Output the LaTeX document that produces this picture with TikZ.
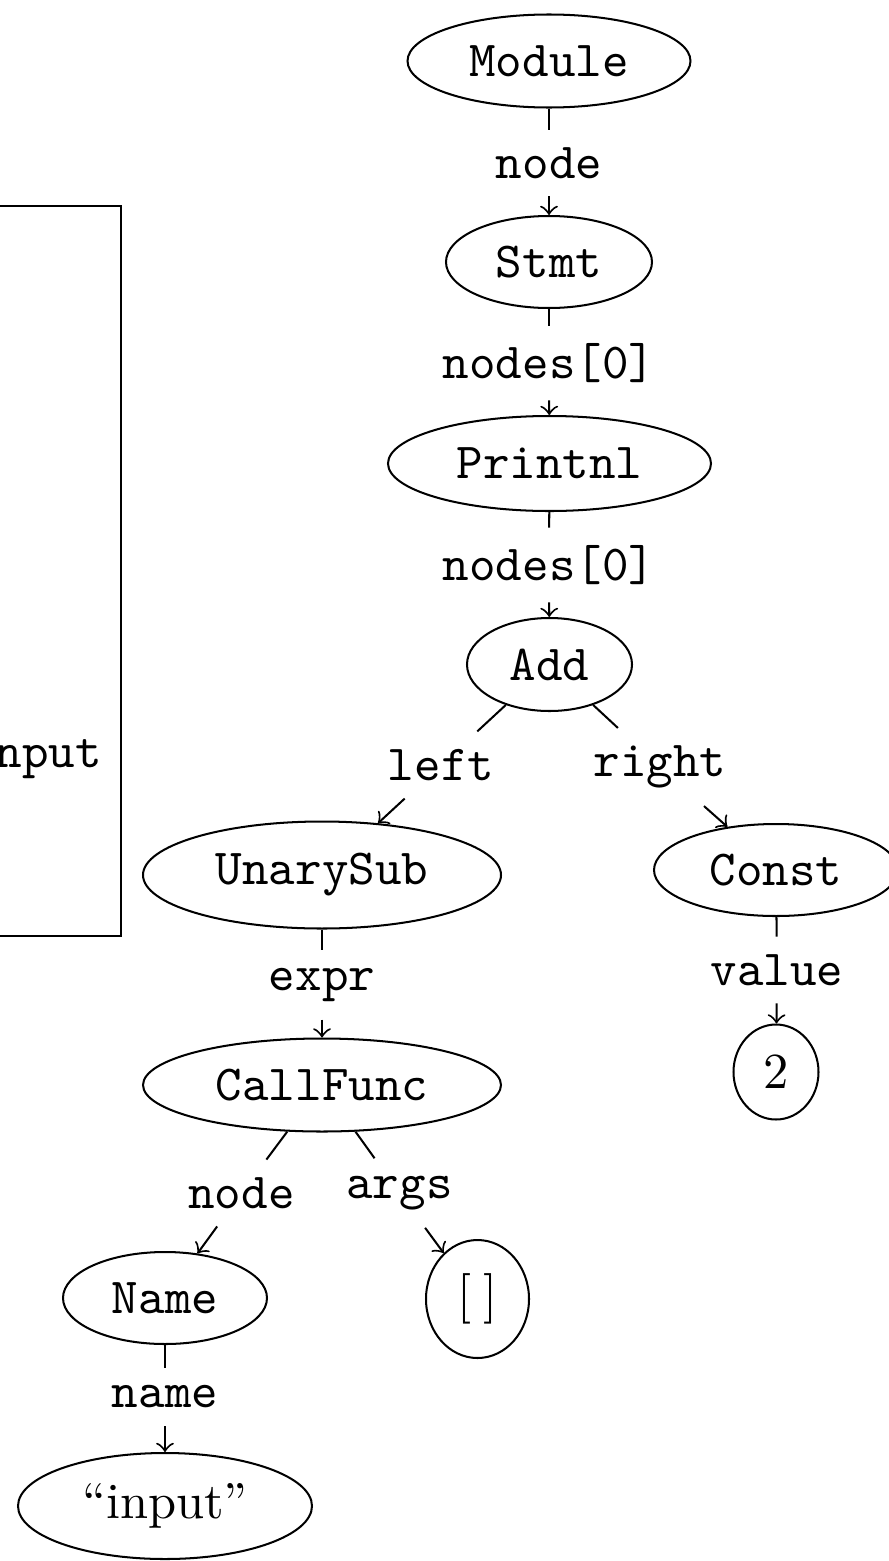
\documentclass[tikz,border=0pt]{standalone}
\usetikzlibrary{shapes.geometric}
\begin{document}
\begin{tikzpicture}[x=0.198pt,y=-0.198pt,
  size/.style 2 args={minimum width=#1*0.198pt, minimum height=#2*0.198pt},
  ast/.style={draw, ellipse, inner sep=0pt, font=\ttfamily},
  lit/.style={draw, ellipse, inner sep=0pt},
  field/.style={font=\ttfamily, inner sep=0.3333em},
  link/.style={->}]
\useasboundingbox (0,0) rectangle (889,1561);

% source listing frame
\node[draw, anchor=north east, inner sep=0pt, size={420}{730}] (code) at (122,205) {};
\node[font=\ttfamily, anchor=base east, inner sep=0pt] (codeline) at (103,767) {input};

% AST nodes
\node[ast, size={283}{93}] (module)   at (549,61)     {Module};
\node[ast, size={206}{92}] (stmt)     at (549,262)    {Stmt};
\node[ast, size={323}{95}] (printnl)  at (549.5,463.5){Printnl};
\node[ast, size={165}{93}] (add)      at (549.5,664.5){Add};
\node[ast, size={358}{107}] (unary)   at (322,875)    {UnarySub};
\node[ast, size={244}{92}] (const)    at (776,870)    {Const};
\node[lit, size={85}{95}]  (two)      at (776,1072)   {$2$};
\node[ast, size={358}{93}] (call)     at (322,1085)   {CallFunc};
\node[ast, size={204}{92}] (name)     at (165,1298)   {Name};
\node[lit, size={103}{118}] (args)    at (477.5,1299) {$[\:]$};
\node[lit, size={294}{106}] (str)     at (165,1506)   {``input''};

% field labels
\node[field] (f1)  at (549,163)    {node};
\node[field] (f2)  at (549,363)    {nodes[0]};
\node[field] (f3)  at (549,565)    {nodes[0]};
\node[field] (f4)  at (441,765)    {left};
\node[field] (f5)  at (660,767)    {right};
\node[field] (f6)  at (322,985)    {expr};
\node[field] (f7)  at (777,970)    {value};
\node[field] (f8)  at (241.5,1193) {node};
\node[field] (f9)  at (399.5,1193) {args};
\node[field] (f10) at (165,1397)   {name};

% edges
\draw (module) -- (f1);  \draw[link] (f1) -- (stmt);
\draw (stmt) -- (f2);    \draw[link] (f2) -- (printnl);
\draw (printnl) -- (f3); \draw[link] (f3) -- (add);
\draw (add) -- (f4);     \draw[link] (f4) -- (unary);
\draw (add) -- (f5);     \draw[link] (f5) -- (const);
\draw (unary) -- (f6);   \draw[link] (f6) -- (call);
\draw (const) -- (f7);   \draw[link] (f7) -- (two);
\draw (call) -- (f8);    \draw[link] (f8) -- (name);
\draw (call) -- (f9);    \draw[link] (f9) -- (args);
\draw (name) -- (f10);   \draw[link] (f10) -- (str);
\end{tikzpicture}
\end{document}
